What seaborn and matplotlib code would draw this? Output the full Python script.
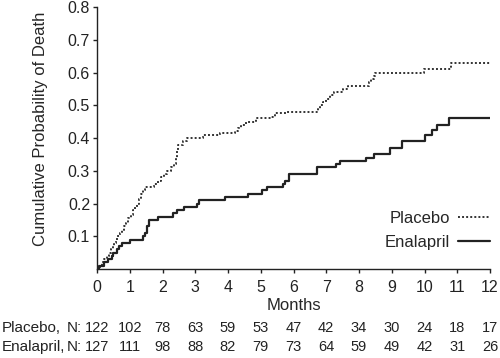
import matplotlib
matplotlib.use("Agg")
import matplotlib.pyplot as plt
import matplotlib.transforms as mtransforms
import pandas as pd
import seaborn as sns

# Kaplan-Meier style step curves (month, cumulative probability of death)
placebo_months = [0, 0.08, 0.15, 0.22, 0.3, 0.37, 0.42, 0.48, 0.53, 0.58, 0.62, 0.7,
                  0.76, 0.83, 0.9, 0.96, 1.04, 1.1, 1.16, 1.22, 1.28, 1.33, 1.4, 1.47,
                  1.75, 1.85, 1.95, 2.05, 2.15, 2.25, 2.35, 2.42, 2.45, 2.48, 2.62, 2.75,
                  3.25, 3.75, 4.2, 4.3, 4.4, 4.55, 4.85, 5.3, 5.45, 5.8, 6.75, 6.8, 6.9,
                  7.0, 7.1, 7.25, 7.5, 7.65, 8.3, 8.38, 8.45, 8.5, 9.98, 10.8, 12]
placebo_prob = [0, 0.01, 0.02, 0.03, 0.04, 0.05, 0.06, 0.07, 0.08, 0.09, 0.10, 0.11,
                0.12, 0.13, 0.14, 0.155, 0.165, 0.18, 0.19, 0.20, 0.215, 0.23, 0.24, 0.25,
                0.26, 0.27, 0.28, 0.29, 0.30, 0.31, 0.32, 0.34, 0.36, 0.38, 0.39, 0.40,
                0.41, 0.415, 0.42, 0.43, 0.44, 0.45, 0.46, 0.465, 0.475, 0.48, 0.49, 0.50, 0.51,
                0.52, 0.53, 0.54, 0.55, 0.56, 0.57, 0.58, 0.59, 0.60, 0.61, 0.63, 0.63]

enalapril_months = [0, 0.05, 0.2, 0.33, 0.45, 0.5, 0.6, 0.68, 0.75, 1.0, 1.4, 1.47,
                    1.53, 1.6, 1.87, 2.33, 2.45, 2.65, 3.05, 3.1, 3.9, 4.6, 5.05, 5.2,
                    5.68, 5.75, 5.85, 6.72, 7.3, 7.42, 8.2, 8.45, 8.96, 9.3, 10.03,
                    10.23, 10.38, 10.74, 12]
enalapril_prob = [0, 0.01, 0.02, 0.03, 0.04, 0.05, 0.06, 0.07, 0.08, 0.09, 0.10, 0.11,
                  0.13, 0.15, 0.16, 0.17, 0.18, 0.19, 0.20, 0.21, 0.22, 0.23, 0.24, 0.25,
                  0.26, 0.27, 0.29, 0.31, 0.32, 0.33, 0.34, 0.35, 0.37, 0.39, 0.41,
                  0.425, 0.44, 0.46, 0.46]

# Numbers at risk
risk_months = list(range(13))
placebo_n = [122, 102, 78, 63, 59, 53, 47, 42, 34, 30, 24, 18, 17]
enalapril_n = [127, 111, 98, 88, 82, 79, 73, 64, 59, 49, 42, 31, 26]

sns.set_style("ticks")
plt.rcParams["font.family"] = ["Liberation Sans", "DejaVu Sans"]

placebo_df = pd.DataFrame({"month": placebo_months, "prob": placebo_prob})
enalapril_df = pd.DataFrame({"month": enalapril_months, "prob": enalapril_prob})

fig = plt.figure(figsize=(5, 3.58), dpi=100)
ax = fig.add_axes([0.194, 0.2486, 0.786, 0.7318])

sns.lineplot(data=placebo_df, x="month", y="prob", ax=ax, drawstyle="steps-post",
             estimator=None, color="#333333", linewidth=1.4, linestyle=(0, (1, 1.1)),
             label="Placebo")
sns.lineplot(data=enalapril_df, x="month", y="prob", ax=ax, drawstyle="steps-post",
             estimator=None, color="#222222", linewidth=1.6, label="Enalapril")

ax.set_xlim(0, 12)
ax.set_ylim(0, 0.8)
ax.set_xticks(range(13))
ax.set_yticks([0.1, 0.2, 0.3, 0.4, 0.5, 0.6, 0.7, 0.8])
ax.tick_params(axis="both", labelsize=11.5, length=3, width=1, colors="#222222")
ax.tick_params(axis="x", pad=5)
ax.tick_params(axis="y", pad=2)
for side in ["left", "bottom"]:
    ax.spines[side].set_color("#222222")
    ax.spines[side].set_linewidth(1)
sns.despine(ax=ax)

ax.set_xlabel("Months", fontsize=12, labelpad=2)
ax.set_ylabel("Cumulative Probability of Death", fontsize=12)
ax.yaxis.set_label_coords(-0.125, 0.534)

ax.legend(loc="upper right", bbox_to_anchor=(1.0, 0.222), frameon=False,
          markerfirst=False, fontsize=12, handlelength=1.9, handletextpad=0.5,
          labelspacing=0.55, borderpad=0, borderaxespad=0)

# Numbers-at-risk table below the axis
trans_fig = mtransforms.blended_transform_factory(fig.transFigure, ax.transAxes)
trans_data = mtransforms.blended_transform_factory(ax.transData, ax.transAxes)
rows = [("Placebo,", placebo_n, -0.225), ("Enalapril,", enalapril_n, -0.298)]
for name, counts, ypos in rows:
    ax.text(0.004, ypos, name, transform=trans_fig, ha="left", va="center",
            fontsize=11, color="#222222")
    ax.text(0.163, ypos, "N:", transform=trans_fig, ha="right", va="center",
            fontsize=11, color="#222222")
    for m, n in zip(risk_months, counts):
        ax.text(m, ypos, str(n), transform=trans_data, ha="center", va="center",
                fontsize=10.5, color="#222222")

fig.savefig("out.png", dpi=100)
